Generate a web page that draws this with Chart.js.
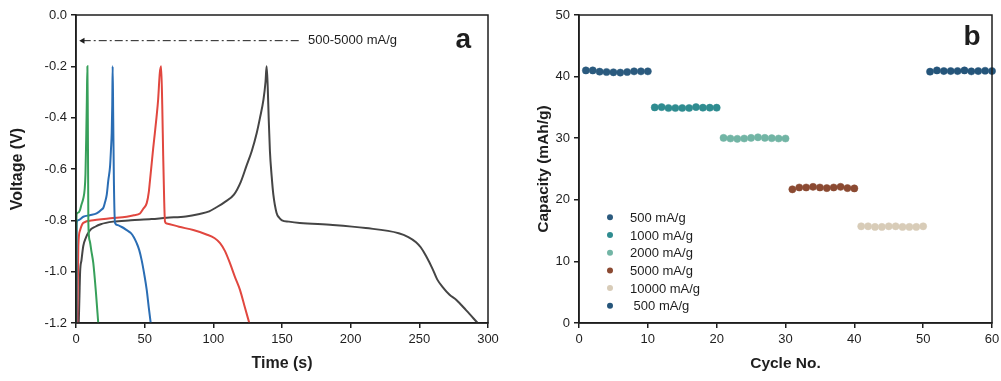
<!DOCTYPE html>
<html>
<head>
<meta charset="utf-8">
<script src="https://cdn.jsdelivr.net/npm/chart.js@4/dist/chart.umd.min.js"></script>
<style>
  html, body { margin: 0; padding: 0; background: #fff; }
  #wrap { position: relative; width: 1001px; height: 381px; }
  #chartA { position: absolute; left: 0; top: 0; }
  #chartB { position: absolute; left: 500px; top: 0; }
</style>
</head>
<body>
<div id="wrap">
  <canvas id="chartA" width="500" height="381"></canvas>
  <canvas id="chartB" width="501" height="381"></canvas>
</div>
<script>
// panel a: galvanostatic charge/discharge curves
const timeGreen = [0, 0.2, 0.5, 1.5, 2.9, 3.9, 5.3, 6.3, 6.9, 7.5, 7.9, 8.3, 8.6, 8.8, 9.0, 10, 11.2, 12.6, 14.5, 16.2];
const voltGreen = [-1.2, -0.85, -0.775, -0.77, -0.76, -0.74, -0.715, -0.68, -0.62, -0.46, -0.33, -0.2, -0.4, -0.6, -0.81, -0.88, -0.92, -0.967, -1.08, -1.2];

const timeBlue = [0.3, 0.5, 1.5, 5.3, 10, 15, 18.7, 20, 21.1, 22.4, 23.5, 24.8, 25.5, 26, 26.4, 26.7, 27.1, 27.6, 28.4, 30, 33, 36.9, 40, 42, 44.2, 46, 47.8, 49.7, 51.5, 53, 54.4];
const voltBlue = [-1.2, -0.81, -0.80, -0.786, -0.78, -0.773, -0.758, -0.75, -0.73, -0.70, -0.645, -0.59, -0.52, -0.46, -0.35, -0.2, -0.4, -0.65, -0.81, -0.818, -0.825, -0.838, -0.85, -0.865, -0.889, -0.915, -0.955, -1.01, -1.071, -1.14, -1.2];

const timeRed = [1, 1.7, 2.9, 5.3, 12.6, 25, 36.9, 42, 46.6, 49, 51.5, 53, 53.9, 54.9, 56.2, 57.4, 58.6, 59.8, 61, 62, 62.8, 63.5, 64.2, 64.8, 66, 75, 85.4, 95, 101, 104.9, 108.5, 112.1, 115.7, 119.4, 123, 126.2];
const voltRed = [-1.2, -0.90, -0.84, -0.81, -0.80, -0.792, -0.786, -0.78, -0.773, -0.755, -0.733, -0.69, -0.643, -0.59, -0.52, -0.461, -0.40, -0.33, -0.227, -0.2, -0.35, -0.55, -0.72, -0.805, -0.812, -0.825, -0.838, -0.855, -0.87, -0.889, -0.92, -0.967, -1.02, -1.071, -1.14, -1.2];

const timeBlack = [2, 2.5, 3, 4, 5.3, 7, 10, 14, 18, 27, 40, 55, 66, 80, 90, 97, 102, 108, 115, 120, 124, 128, 131.6, 134, 136.5, 138, 138.8, 139.6, 140.3, 141.2, 142.5, 143.7, 146, 148, 150, 155, 163, 187, 211, 235, 242, 247.6, 251, 255, 259.7, 263, 267, 272, 277, 284, 292.5];
const voltBlack = [-1.2, -1.1, -1.0, -0.955, -0.9, -0.87, -0.84, -0.825, -0.815, -0.805, -0.80, -0.795, -0.79, -0.785, -0.775, -0.765, -0.75, -0.73, -0.70, -0.65, -0.59, -0.53, -0.46, -0.40, -0.33, -0.26, -0.20, -0.28, -0.40, -0.53, -0.63, -0.70, -0.77, -0.79, -0.80, -0.805, -0.81, -0.818, -0.83, -0.85, -0.865, -0.885, -0.905, -0.94, -0.99, -1.03, -1.06, -1.09, -1.11, -1.15, -1.2];

const arrowTime = [4.9, 164.3];
const arrowVolt = [-0.1, -0.1];
const arrowText = '500-5000 mA/g';

// panel b: rate capability
const cycles = [1, 2, 3, 4, 5, 6, 7, 8, 9, 10, 11, 12, 13, 14, 15, 16, 17, 18, 19, 20,
  21, 22, 23, 24, 25, 26, 27, 28, 29, 30, 31, 32, 33, 34, 35, 36, 37, 38, 39, 40,
  41, 42, 43, 44, 45, 46, 47, 48, 49, 50, 51, 52, 53, 54, 55, 56, 57, 58, 59, 60];
const rateLabels = ['500 mA/g', '1000 mA/g', '2000 mA/g', '5000 mA/g', '10000 mA/g', ' 500 mA/g'];
const cap500 = [41.0, 41.0, 40.8, 40.75, 40.7, 40.65, 40.75, 40.85, 40.85, 40.85];
const cap1000 = [35.0, 35.05, 34.9, 34.9, 34.9, 34.9, 35.05, 34.95, 34.95, 34.95];
const cap2000 = [30.05, 29.95, 29.9, 29.95, 30.05, 30.15, 30.05, 30.0, 29.95, 29.95];
const cap5000 = [21.7, 22.0, 22.0, 22.1, 22.0, 21.9, 22.0, 22.1, 21.9, 21.85];
const cap10000 = [15.7, 15.7, 15.6, 15.6, 15.7, 15.7, 15.6, 15.6, 15.6, 15.7];
const cap500b = [40.8, 41.0, 40.9, 40.9, 40.9, 41.0, 40.85, 40.9, 40.95, 40.9];
const rateColors = ['#2b5a7e', '#2f8c90', '#72b5a5', '#8b4a32', '#d8ccb8', '#25557a'];

const INK = '#1e1e1e';
const FONT = "'Liberation Sans', Arial, sans-serif";

function pts(xs, ys) {
    return xs.map((x, i) => ({x: x, y: ys[i]}));
}

// draws the frame box around the plot area
const frameBox = {
    id: 'frameBox',
    afterDatasetsDraw(chart) {
        const a = chart.chartArea;
        const ctx = chart.ctx;
        ctx.save();
        ctx.strokeStyle = INK;
        ctx.lineWidth = 1.5;
        ctx.strokeRect(a.left, a.top, a.right - a.left, a.bottom - a.top);
        ctx.restore();
    }
};

function axisOpts(min, max, step, title, titleSize, fmt, fixedSize, horizontal) {
    return {
        type: 'linear',
        min: min,
        max: max,
        ticks: {
            stepSize: step,
            color: INK,
            font: {family: FONT, size: 13},
            padding: 4,
            maxRotation: 0,
            callback: fmt
        },
        grid: {drawOnChartArea: false, drawTicks: true, tickLength: 5, color: INK, lineWidth: 1.5},
        border: {display: true, color: INK, width: 1.5},
        title: {
            display: true,
            text: title,
            color: INK,
            font: {family: FONT, size: titleSize, weight: 'bold'},
            padding: horizontal ? {top: 0, bottom: 8} : {top: 8, bottom: 0}
        },
        afterFit(scale) {
            // fixed box sizes, the layout padding handles label overhang
            if (horizontal) {
                scale.height = fixedSize;
                scale.paddingLeft = 0;
                scale.paddingRight = 0;
            } else {
                scale.width = fixedSize;
                scale.paddingTop = 0;
                scale.paddingBottom = 0;
            }
        }
    };
}

// ---------- panel a ----------
const labelA = {
    id: 'labelA',
    afterDraw(chart) {
        const ctx = chart.ctx;
        const xs = chart.scales.x, ys = chart.scales.y;
        ctx.save();
        ctx.fillStyle = INK;
        ctx.font = '13px ' + FONT;
        ctx.textBaseline = 'middle';
        ctx.textAlign = 'left';
        ctx.fillText(arrowText, xs.getPixelForValue(169), ys.getPixelForValue(arrowVolt[0]));
        ctx.font = 'bold 28px ' + FONT;
        ctx.textAlign = 'center';
        ctx.fillText('a', xs.getPixelForValue(282), ys.getPixelForValue(-0.1));
        ctx.restore();
    }
};

const lineStyle = (label, color, xs, ys) => ({
    label: label,
    data: pts(xs, ys),
    borderColor: color,
    borderWidth: 2,
    pointRadius: 0,
    cubicInterpolationMode: 'monotone',
    fill: false
});

new Chart(document.getElementById('chartA'), {
    type: 'line',
    data: {
        datasets: [
            {
                label: 'arrow',
                data: pts(arrowTime, arrowVolt),
                borderColor: INK,
                borderWidth: 1,
                borderDash: [8, 3, 2, 3],
                pointStyle: 'triangle',
                pointRotation: -90,
                pointRadius: [3.5, 0],
                pointBackgroundColor: INK,
                pointBorderColor: INK,
                pointBorderWidth: 0,
                fill: false
            },
            lineStyle('5000 mA/g', '#37a05a', timeGreen, voltGreen),
            lineStyle('2000 mA/g', '#2a6db4', timeBlue, voltBlue),
            lineStyle('1000 mA/g', '#e1473f', timeRed, voltRed),
            lineStyle('500 mA/g', '#454545', timeBlack, voltBlack)
        ]
    },
    options: {
        responsive: false,
        animation: false,
        devicePixelRatio: 1,
        layout: {padding: {top: 15, right: 12, bottom: 0, left: 0}},
        plugins: {legend: {display: false}, tooltip: {enabled: false}},
        scales: {
            x: axisOpts(0, 300, 50, 'Time (s)', 16, v => v, 58, true),
            y: axisOpts(-1.2, 0, 0.2, 'Voltage (V)', 16, v => v.toFixed(1), 76, false)
        }
    },
    plugins: [frameBox, labelA]
});

// ---------- panel b ----------
const capGroups = [cap500, cap1000, cap2000, cap5000, cap10000, cap500b];

const legendB = {
    id: 'legendB',
    afterDraw(chart) {
        const ctx = chart.ctx;
        ctx.save();
        ctx.font = '13px ' + FONT;
        ctx.textBaseline = 'middle';
        ctx.textAlign = 'left';
        chart.data.datasets.forEach((ds, i) => {
            const y = 217.3 + i * 17.7;
            ctx.beginPath();
            ctx.arc(110, y, 3, 0, Math.PI * 2);
            ctx.fillStyle = ds.pointBackgroundColor;
            ctx.fill();
            ctx.fillStyle = INK;
            ctx.fillText(ds.label, 130, y + 1);
        });
        ctx.font = 'bold 28px ' + FONT;
        ctx.textAlign = 'center';
        ctx.fillText('b', chart.scales.x.getPixelForValue(57.1), chart.scales.y.getPixelForValue(46.4));
        ctx.restore();
    }
};

new Chart(document.getElementById('chartB'), {
    type: 'scatter',
    data: {
        datasets: capGroups.map((cap, i) => ({
            label: rateLabels[i],
            data: pts(cycles.slice(i * 10, i * 10 + 10), cap),
            pointRadius: 3.6,
            pointBackgroundColor: rateColors[i],
            pointBorderColor: rateColors[i],
            pointBorderWidth: 0.5
        }))
    },
    options: {
        responsive: false,
        animation: false,
        devicePixelRatio: 1,
        clip: false,
        layout: {padding: {top: 15, right: 9, bottom: 0, left: 0}},
        plugins: {legend: {display: false}, tooltip: {enabled: false}},
        scales: {
            x: axisOpts(0, 60, 10, 'Cycle No.', 15.5, v => v, 58, true),
            y: {...axisOpts(0, 50, 10, 'Capacity (mAh/g)', 15.5, v => v, 79, false),
                title: {display: true, text: 'Capacity (mAh/g)', color: INK,
                        font: {family: FONT, size: 15.5, weight: 'bold'}, padding: {top: 34, bottom: 0}}}
        }
    },
    plugins: [frameBox, legendB]
});
</script>
</body>
</html>
